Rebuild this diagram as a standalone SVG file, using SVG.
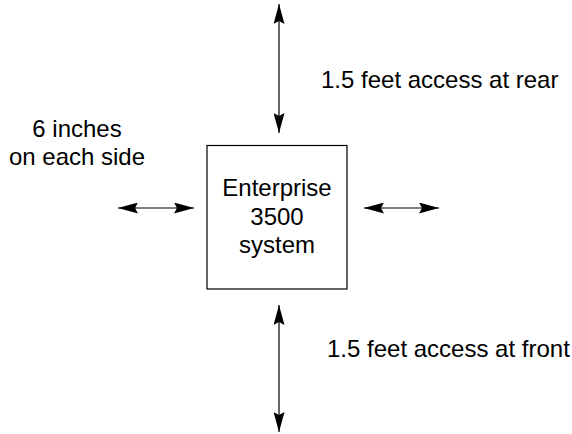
<svg xmlns="http://www.w3.org/2000/svg" width="572" height="434" viewBox="0 0 572 434">
<style>
text{font-family:"Liberation Sans",Arial,sans-serif;font-size:24px;fill:#000}
.c{text-anchor:middle}
.box{fill:#fff;stroke:#000;stroke-width:1.2}
.ln{stroke:#000;stroke-width:1.2;fill:none;marker-start:url(#ah);marker-end:url(#ah)}
</style>
<defs>
<marker id="ah" viewBox="0 0 20 11" refX="20" refY="5.5" markerWidth="20" markerHeight="11" markerUnits="userSpaceOnUse" orient="auto-start-reverse">
<path d="M0,0 L20,5.5 L0,11 L3,5.5 z" fill="#000"/>
</marker>
</defs>
<rect width="572" height="434" fill="#fff"/>
<g id="connectors">
<line class="ln" x1="279" y1="4" x2="279" y2="133"/>
<line class="ln" x1="279" y1="305" x2="279" y2="432"/>
<line class="ln" x1="118" y1="208" x2="194" y2="208"/>
<line class="ln" x1="364" y1="208" x2="439" y2="208"/>
</g>
<g id="system">
<rect class="box" x="207" y="145.5" width="140" height="143.5"/>
<text class="c" x="277" y="196">Enterprise</text>
<text class="c" x="277" y="225">3500</text>
<text class="c" x="277" y="253">system</text>
</g>
<g id="rear-label"><text x="321" y="88">1.5 feet access at rear</text></g>
<g id="front-label"><text x="327" y="357">1.5 feet access at front</text></g>
<g id="side-label">
<text class="c" x="77" y="137">6 inches</text>
<text class="c" x="77" y="165">on each side</text>
</g>
</svg>
